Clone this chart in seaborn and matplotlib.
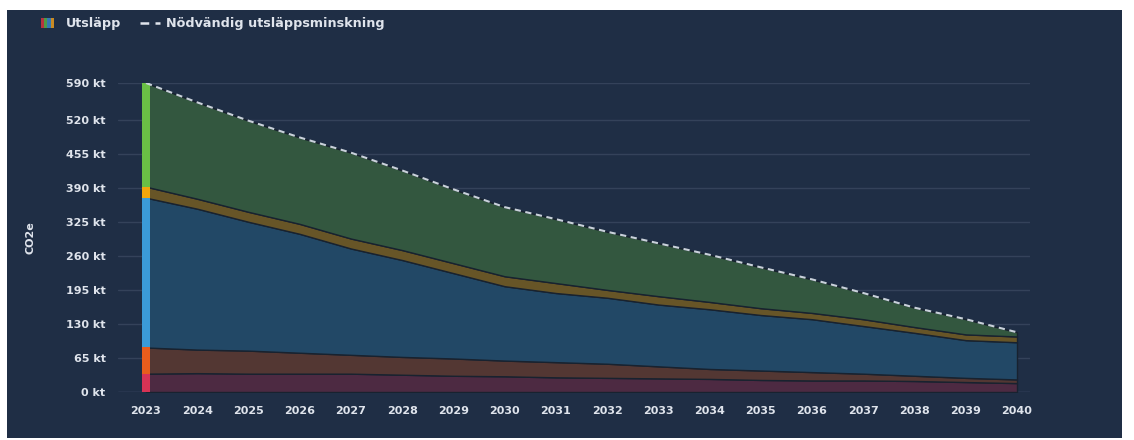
import matplotlib
matplotlib.use("Agg")
import matplotlib.pyplot as plt
from matplotlib.patches import Rectangle
import numpy as np
import pandas as pd
import seaborn as sns

# Data (kt CO2e)
years = list(range(2023, 2041))
red = [35, 36, 35, 35, 35, 33, 31, 30, 28, 27, 26, 25, 23, 22, 22, 21, 19, 17]
orange = [50, 45, 44, 40, 36, 34, 33, 30, 29, 27, 23, 19, 18, 16, 13, 10, 8, 7]
blue = [286, 269, 246, 227, 203, 185, 163, 142, 132, 126, 118, 114, 106, 101, 91, 82, 72, 71]
yellow = [21, 19, 19, 19, 19, 19, 19, 19, 19, 15, 16, 14, 13, 12, 13, 11, 11, 11]
green = [198, 184, 174, 165, 164, 152, 141, 132, 122, 111, 101, 90, 78, 64, 50, 37, 29, 8]
y_ticks = [0, 65, 130, 195, 260, 325, 390, 455, 520, 590]

bg = "#1f2e45"
text_col = "#dfe4ec"
fill_cols = ["#4d2a42", "#533733", "#224866", "#675527", "#33573f"]
bright_cols = ["#d83355", "#e85d1c", "#3b9bd8", "#f2a60c", "#6abf45"]

sns.set_theme(style="dark", rc={"axes.facecolor": bg, "figure.facecolor": "white"})
plt.rcParams["font.family"] = ["DejaVu Sans"]
plt.rcParams["font.weight"] = "bold"

fig = plt.figure(figsize=(11.34, 4.4), dpi=100)
# navy card behind the chart
fig.patches.append(Rectangle((7 / 1134, 2 / 440), 1115 / 1134, 428 / 440,
                             transform=fig.transFigure, facecolor=bg, edgecolor="none", zorder=-10))
ax = fig.add_axes([118 / 1134, 48 / 440, 912 / 1134, 309 / 440])
ax.set_zorder(1)
ax.set_facecolor(bg)

layers = [red, orange, blue, yellow, green]
ax.stackplot(years, *layers, colors=fill_cols, edgecolor="#18222f", linewidth=1.0, zorder=2)

# bright strip at the first year
bottom = 0
for vals, col in zip(layers, bright_cols):
    ax.bar(years[0], vals[0], bottom=bottom, width=0.14, color=col, linewidth=0, zorder=3)
    bottom += vals[0]

total = pd.DataFrame({"year": years, "total": np.sum(layers, axis=0)})
sns.lineplot(data=total, x="year", y="total", ax=ax, color="#c9d1da", linewidth=1.5, zorder=4)
ax.lines[-1].set_dashes([3, 2.2])

ax.set_xlim(2023 - 28 / 51.24, 2040 + 13 / 51.24)
ax.set_ylim(0, 590)
ax.set_xticks(years)
ax.set_xticklabels([str(y) for y in years], fontweight="bold")
ax.set_yticks(y_ticks)
ax.set_yticklabels([f"{t} kt" for t in y_ticks], fontweight="bold")
ax.tick_params(axis="both", colors=text_col, labelsize=8, length=0)
ax.tick_params(axis="x", pad=10)
ax.tick_params(axis="y", pad=9)
ax.grid(axis="y", color="#34425a", linewidth=1)
ax.grid(axis="x", visible=False)
for s in ax.spines.values():
    s.set_visible(False)
ax.axhline(0, color="#3a4963", linewidth=1, zorder=1)
ax.set_xlabel("")
ax.set_ylabel("CO2e", color=text_col, fontsize=8, fontweight="bold", labelpad=22)

# legend at the top left
icon_cols = ["#b8343f", "#4f9a47", "#3479b5", "#c98a23"]
for i, c in enumerate(icon_cols):
    fig.patches.append(Rectangle(((41 + i * 3.2) / 1134, 1 - 28 / 440), 3.2 / 1134, 10 / 440,
                                 transform=fig.transFigure, facecolor=c, edgecolor="none", zorder=5))
fig.text(66 / 1134, 1 - 23 / 440, "Utsläpp", color=text_col, fontsize=9.2, fontweight="bold", va="center")
fig.add_artist(plt.Line2D([140 / 1134, 160 / 1134], [1 - 23 / 440, 1 - 23 / 440],
                          transform=fig.transFigure, color=text_col, linewidth=1.8, dashes=[3.5, 2.5]))
fig.text(166 / 1134, 1 - 23 / 440, "Nödvändig utsläppsminskning", color=text_col, fontsize=9.2,
         fontweight="bold", va="center")

fig.savefig("out.png", dpi=100, facecolor="white")
